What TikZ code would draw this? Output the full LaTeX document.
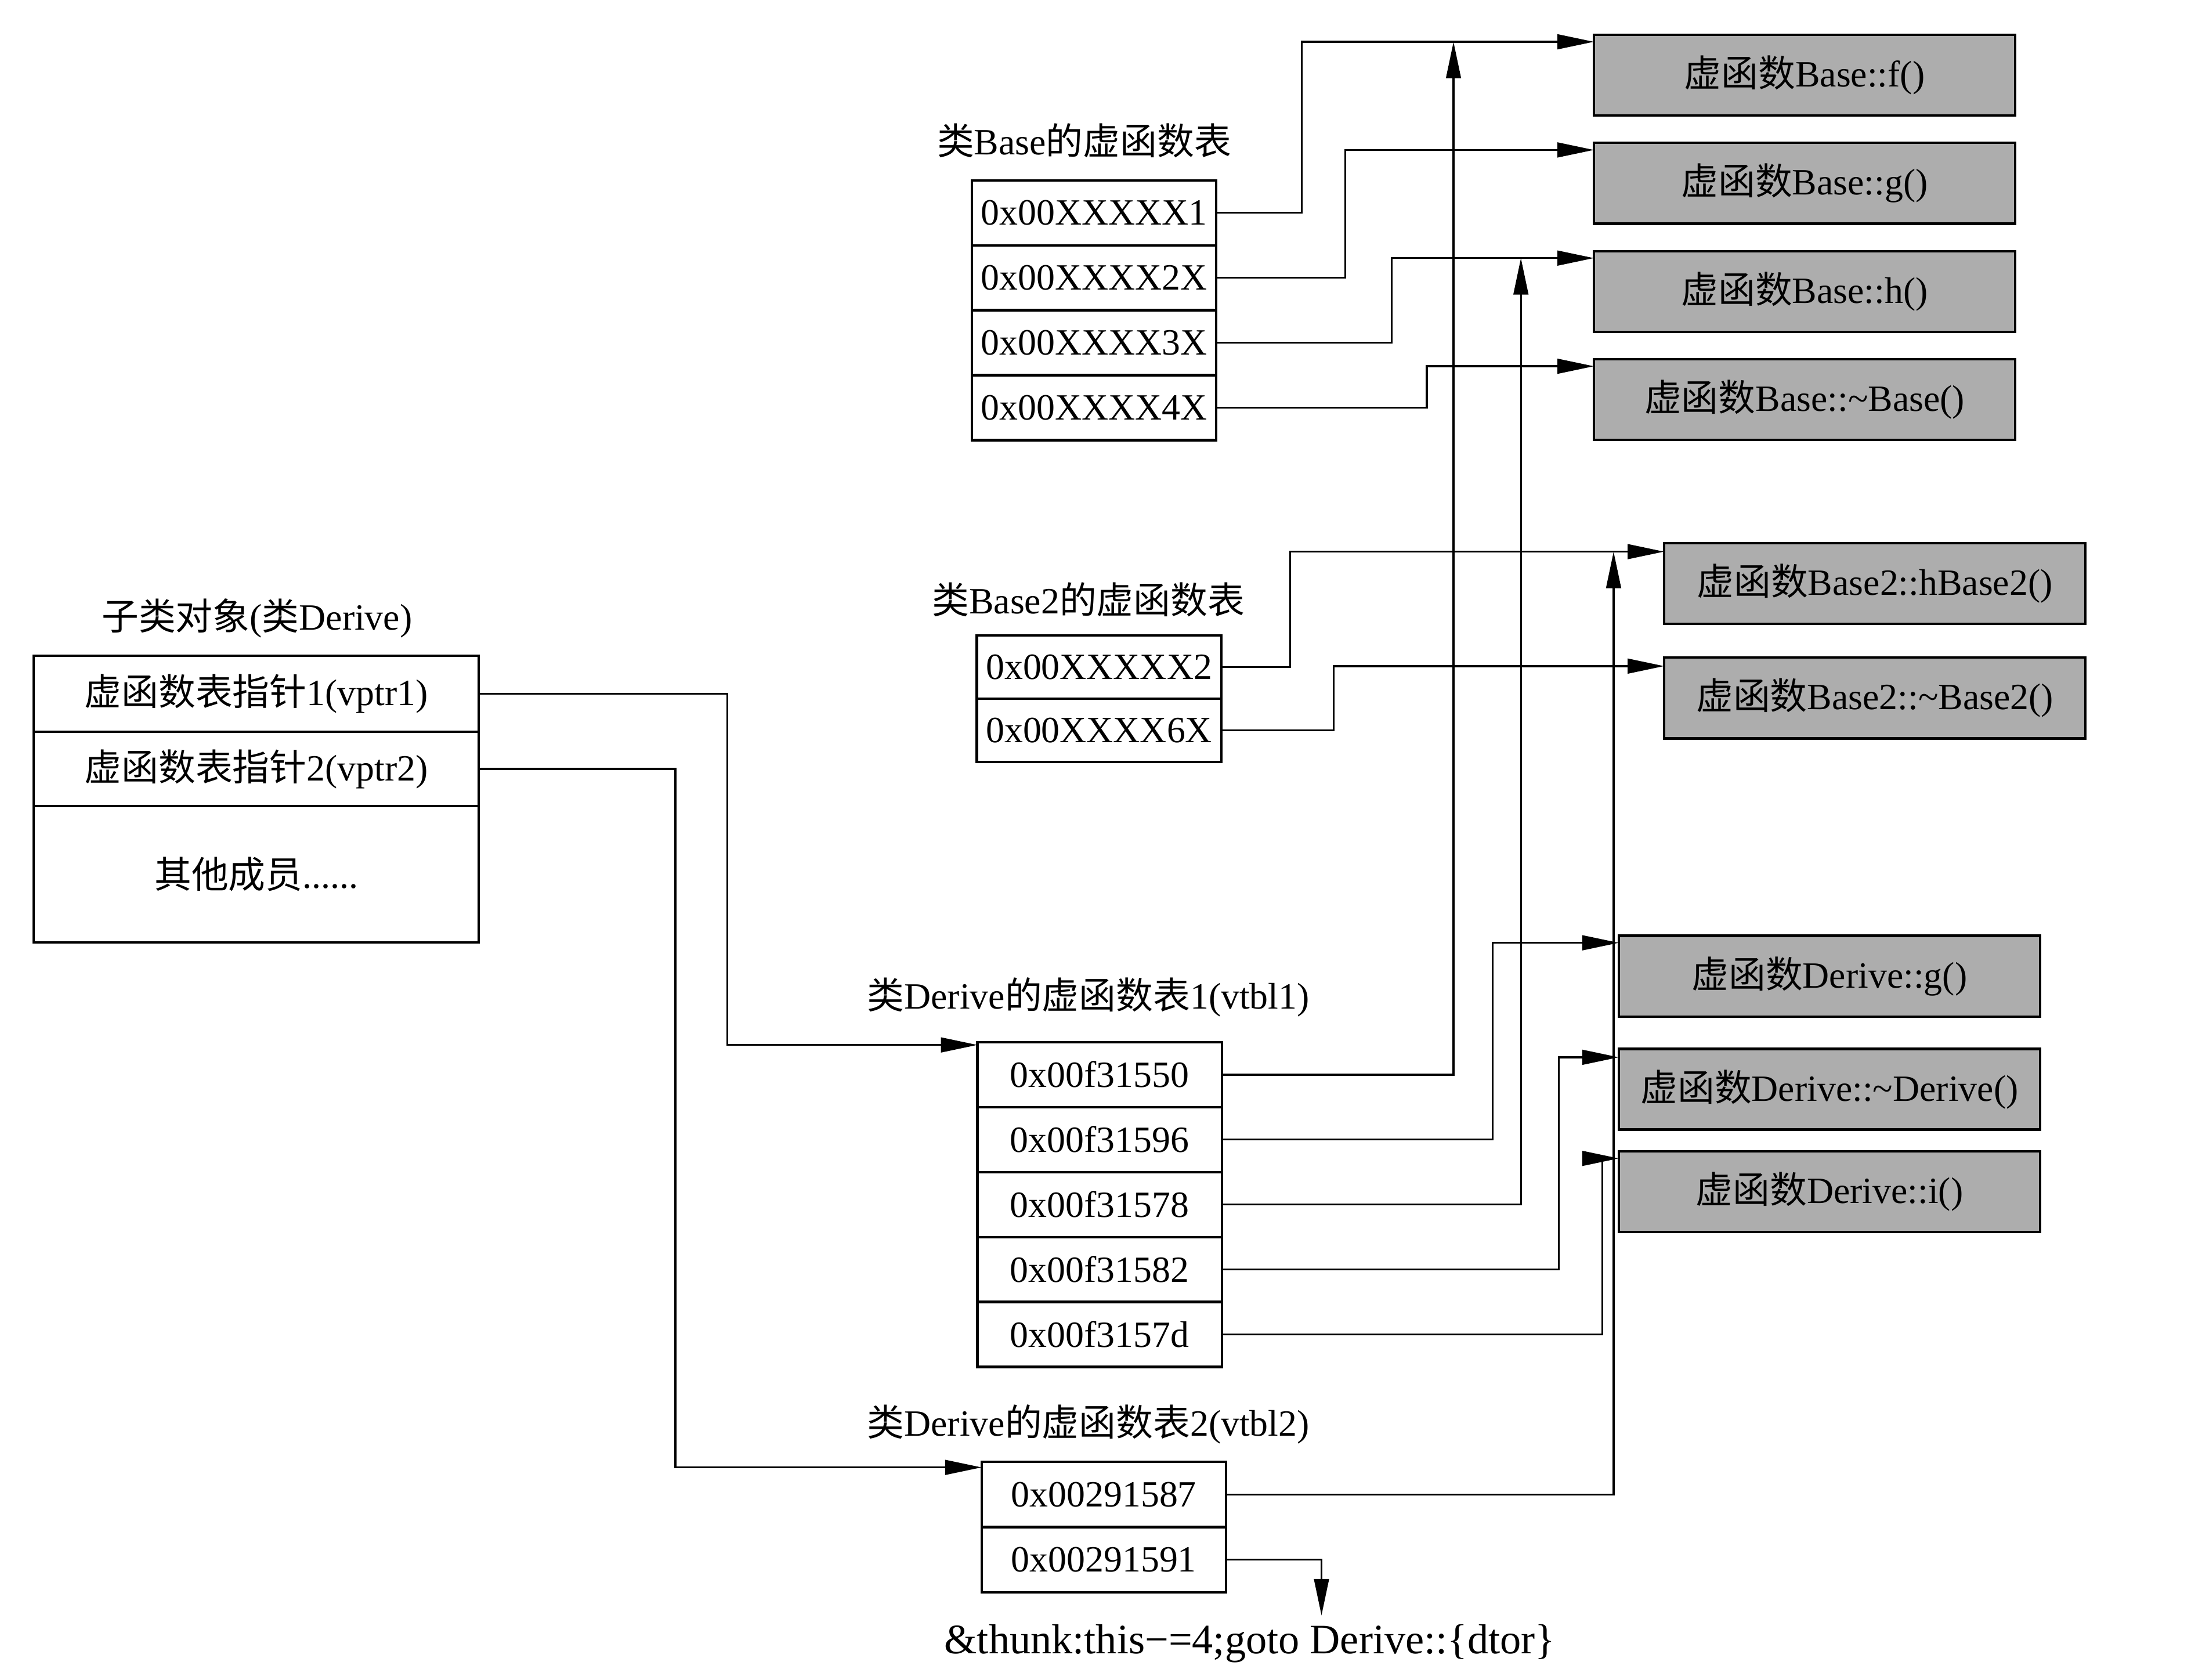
\documentclass[tikz,border=0pt]{standalone}
\usepackage{fontspec}
\setmainfont{Liberation Serif}
\newfontfamily\cjk{Noto Sans CJK SC}
\newcommand{\zh}[1]{{\cjk #1}}
\usetikzlibrary{positioning,arrows.meta}

\begin{document}
\begin{tikzpicture}[x=0.2mm, y=-0.2mm,
    font=\fontsize{15}{18}\selectfont,
    cell/.style={draw, rectangle, line width=1pt, outer sep=0pt, inner sep=0pt, minimum width=34.8mm, minimum height=9.25mm},
    func/.style={draw, rectangle, line width=1pt, outer sep=0pt, inner sep=0pt, fill=black!32, minimum width=60mm, minimum height=11.5mm},
    member/.style={draw, rectangle, line width=1pt, outer sep=0pt, inner sep=0pt, minimum width=63.4mm},
    arr/.style={-{Triangle[length=5.2mm,width=2.1mm]}, line width=0.8pt}]
    \useasboundingbox (0,0) rectangle (1568,1196);

    \node (tb) at (772,100) {\zh{类}Base\zh{的虚函数表}};
    \node[cell] (b1) at (779,151.5) {0x00XXXXX1};
    \node[cell, below=0pt of b1] (b2) {0x00XXXX2X};
    \node[cell, below=0pt of b2] (b3) {0x00XXXX3X};
    \node[cell, below=0pt of b3] (b4) {0x00XXXX4X};

    \node (tb2) at (775,427) {\zh{类}Base2\zh{的虚函数表}};
    \node[cell, minimum height=9mm] (c1) at (782.6,475) {0x00XXXXX2};
    \node[cell, minimum height=9mm, below=0pt of c1] (c2) {0x00XXXX6X};

    \node (tobj) at (183,440) {\zh{子类对象}(\zh{类}Derive)};
    \node[member, minimum height=10.8mm] (p1) at (182.5,494) {\zh{虚函数表指针}1(vptr1)};
    \node[member, minimum height=10.6mm, below=0pt of p1] (p2) {\zh{虚函数表指针}2(vptr2)};
    \node[member, minimum height=19.4mm, below=0pt of p2] (p3) {\zh{其他成员}......};

    \node (tv1) at (775,710) {\zh{类}Derive\zh{的虚函数表}1(vtbl1)};
    \node[cell] (d1) at (783,765.1) {0x00f31550};
    \node[cell, below=0pt of d1] (d2) {0x00f31596};
    \node[cell, below=0pt of d2] (d3) {0x00f31578};
    \node[cell, below=0pt of d3] (d4) {0x00f31582};
    \node[cell, below=0pt of d4] (d5) {0x00f3157d};

    \node (tv2) at (775,1014) {\zh{类}Derive\zh{的虚函数表}2(vtbl2)};
    \node[cell, minimum height=9.3mm] (e1) at (786,1064) {0x00291587};
    \node[cell, minimum height=9.3mm, below=0pt of e1] (e2) {0x00291591};
    \node[font=\fontsize{17}{20}\selectfont] (thunk) at (890,1170) {\&thunk:this−=4;goto Derive::\{dtor\}};

    \node[func] (f) at (1285,53.5) {\zh{虚函数}Base::f()};
    \node[func, below=3.9mm of f] (g) {\zh{虚函数}Base::g()};
    \node[func, below=3.9mm of g] (h) {\zh{虚函数}Base::h()};
    \node[func, below=3.9mm of h] (nb) {\zh{虚函数}Base::\textasciitilde Base()};

    \node[func] (hb2) at (1335,415.5) {\zh{虚函数}Base2::hBase2()};
    \node[func, below=4.8mm of hb2] (nb2) {\zh{虚函数}Base2::\textasciitilde Base2()};

    \node[func] (dg) at (1302.7,695) {\zh{虚函数}Derive::g()};
    \node[func, below=4.6mm of dg] (dn) {\zh{虚函数}Derive::\textasciitilde Derive()};
    \node[func, below=3.1mm of dn] (di) {\zh{虚函数}Derive::i()};

    \coordinate (fin) at ([yshift=-1mm]f.north west);
    \coordinate (gin) at ([yshift=-1mm]g.north west);
    \coordinate (hin) at ([yshift=-1mm]h.north west);
    \coordinate (nbin) at ([yshift=-1mm]nb.north west);
    \coordinate (hb2in) at ([yshift=-1.2mm]hb2.north west);
    \coordinate (nb2in) at ([yshift=-1.2mm]nb2.north west);
    \coordinate (dgin) at ([yshift=-1mm]dg.north west);
    \coordinate (dnin) at ([yshift=-1.2mm]dn.north west);
    \coordinate (diin) at ([yshift=-1mm]di.north west);

    \draw[arr] (b1.east) -- ++(61,0) |- (fin);
    \draw[arr] (b2.east) -- ++(92,0) |- (gin);
    \draw[arr] (b3.east) -- ++(125,0) |- (hin);
    \draw[arr] (b4.east) -- ++(150,0) |- (nbin);

    \draw[arr] (c1.east) -- ++(49,0) |- (hb2in);
    \draw[arr] (c2.east) -- ++(80,0) |- (nb2in);

    \draw[arr] (p1.east) -- ++(177,0) |- ([yshift=-0.4mm]d1.north west);
    \draw[arr] (p2.east) -- ++(140,0) |- ([yshift=-0.8mm]e1.north west);

    \draw[arr] (d1.east) -- ++(165,0) coordinate (d1k) -- (d1k |- fin);
    \draw[arr] (d2.east) -- ++(193,0) |- (dgin);
    \draw[arr] (d3.east) -- ++(213,0) coordinate (d3k) -- (d3k |- hin);
    \draw[arr] (d4.east) -- ++(240,0) |- (dnin);
    \draw[arr] (d5.east) -- ++(271,0) |- (diin);

    \draw[arr] (e1.east) -- ++(276,0) coordinate (e1k) -- (e1k |- hb2in);
    \draw[arr] (e2.east) -- ++(68,0) coordinate (e2k) -- (e2k |- thunk.north);
\end{tikzpicture}
\end{document}
